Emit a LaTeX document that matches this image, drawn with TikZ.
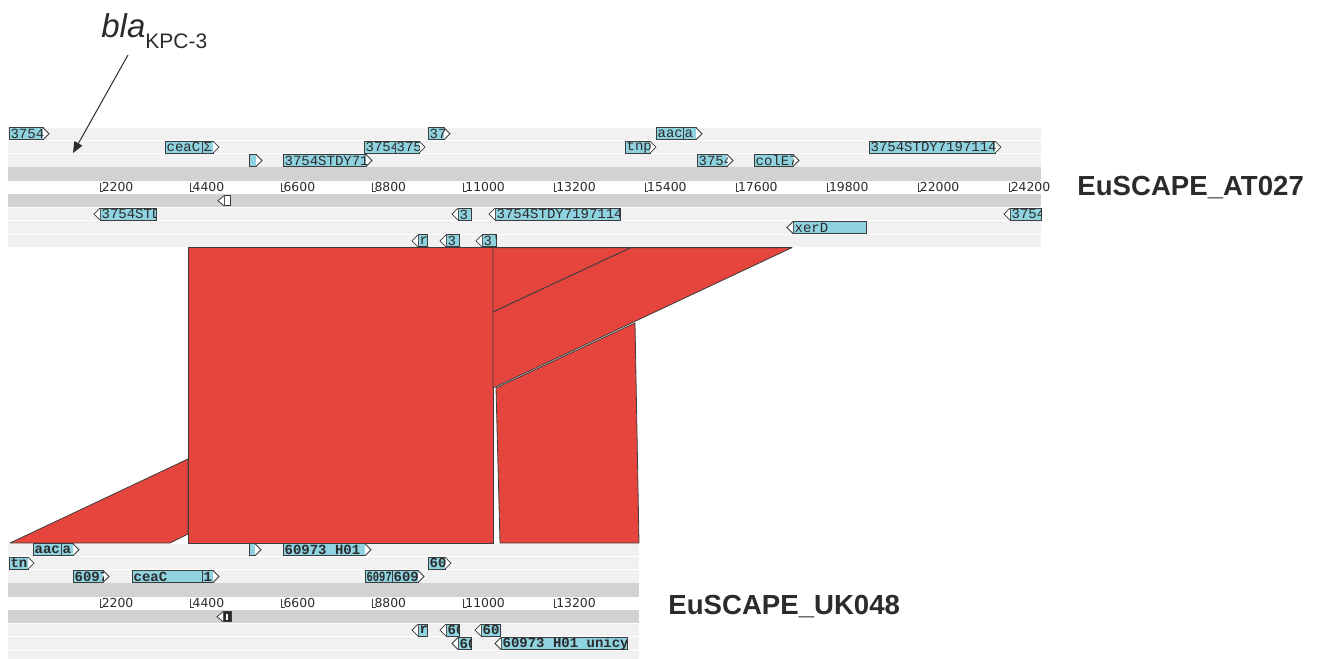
\documentclass[tikz,border=0pt]{standalone}
\usepackage{fontspec}
\usepackage{graphicx}
\setmainfont{Liberation Sans}
\newfontfamily\featfont{Liberation Mono}
\newfontfamily\tickfont{DejaVu Sans}
\usetikzlibrary{arrows.meta}
\definecolor{ink}{HTML}{2B2B2B}
\definecolor{lightrow}{HTML}{F1F1F1}
\definecolor{darkrow}{HTML}{D2D2D2}
\definecolor{featblue}{HTML}{8FD2E0}
\definecolor{featedge}{HTML}{3C3C3C}
\definecolor{hitred}{HTML}{E5453D}

\begin{document}
\begin{tikzpicture}[
  x=0.5pt, y=-0.5pt,
  lrow/.style={fill=lightrow},
  drow/.style={fill=darkrow},
  featbox/.style={fill=featblue, draw=featedge, line width=0.5pt},
  feattip/.style={fill=white, draw=featedge, line width=0.4pt, line join=miter},
  featlbl/.style={anchor=west, inner sep=0.6pt, text=ink, font=\featfont\fontsize{7}{7}\selectfont},
  boldlbl/.style={featlbl, font=\featfont\bfseries\fontsize{7}{7}\selectfont},
  tickline/.style={draw=featedge, line width=0.4pt},
  ticklbl/.style={anchor=west, inner sep=0.5pt, text=ink, font=\tickfont\fontsize{6.2}{7}\selectfont},
  hit/.style={fill=hitred, draw=featedge, line width=0.4pt, line join=round},
  genome/.style={anchor=west, inner sep=0pt, text=ink, font=\bfseries\fontsize{13.8}{16}\selectfont},
  pointer/.style={draw=ink, line width=0.5pt, -{Triangle[length=5.5pt, width=4.5pt]}}
]
\useasboundingbox (0,0) rectangle (1319,659);
\clip (0,0) rectangle (1319,659);

% matching regions
\draw[hit] (188,247.6) -- (493,247.6) -- (493,543) -- (188,543) -- cycle;
\draw[hit] (493,247.6) -- (631,247.6) -- (493,312) -- cycle;
\draw[hit] (493,312) -- (631,247.6) -- (792,247.6) -- (493,388) -- cycle;
\draw[hit] (496,388) -- (635,323) -- (639,543) -- (500,543) -- cycle;
\draw[hit] (10,543) -- (188,459) -- (188,534) -- (170,543) -- cycle;

% EuSCAPE_AT027 track
\begin{scope}[shift={(0,127)}]
\foreach \r in {1,2,3,7,8,9} {\fill[lrow] (8,{(\r-1)*13.4+0.6}) rectangle (1041,{\r*13.4-0.6});}
\foreach \r in {4,6} {\fill[drow] (8,{(\r-1)*13.4}) rectangle (1041,{\r*13.4});}
\foreach \i in {1,...,11} {
  \pgfmathsetmacro\tx{9+90.9*\i}
  \draw[tickline] (\tx,55.6) -- (\tx,64.6) -- (\tx+3,64.6);
  \node[ticklbl] (at-t\i) at (\tx+0.5,60.3) {\the\numexpr2200*\i\relax};
}
% forward genes, tip hidden
\foreach \a/\b/\r/\t in {656/683/1/aac, 165/202/2/ceaC, 364/395/2/3754} {
  \pgfmathsetmacro\yc{(\r-0.5)*13.4}
  \draw[featbox] (\a,\yc-6) rectangle (\b,\yc+6);
  \node[featlbl] (at-\a-\r) at (\a,\yc) {\t};
}
% forward genes
\foreach \a/\b/\r/\t in {9/43/1/3754, 428/444/1/37, 683/696/1/a, 202/213/2/Σ,
  395/419/2/375, 625/650/2/tnp, 869/995/2/3754STDY7197114, 249/256/3/,
  283/366/3/3754STDY71, 697/727/3/3754, 754/793/3/colE7} {
  \pgfmathsetmacro\yc{(\r-0.5)*13.4}
  \draw[featbox] (\a,\yc-6) rectangle (\b,\yc+6);
  \draw[feattip] (\b,\yc-6) -- (\b+6,\yc) -- (\b,\yc+6);
  \begin{scope}
    \clip (\a,\yc-6) rectangle (\b,\yc+6);
    \node[featlbl] (at-\a-\r) at (\a,\yc) {\t};
  \end{scope}
}
% reverse genes
\foreach \a/\b/\r/\t in {100/156/7/3754STD, 458/471/7/3', 495/620/7/3754STDY7197114,
  1010/1041/7/3754, 793/866/8/xerD, 418/427/9/r, 446/459/9/3', 482/496/9/3'} {
  \pgfmathsetmacro\yc{(\r-0.5)*13.4}
  \draw[featbox] (\a,\yc-6) rectangle (\b,\yc+6);
  \draw[feattip] (\a,\yc-6) -- (\a-6,\yc) -- (\a,\yc+6);
  \begin{scope}
    \clip (\a,\yc-6) rectangle (\b,\yc+6);
    \node[featlbl] (at-\a-\r) at (\a,\yc) {\t};
  \end{scope}
}
\draw[featbox, fill=white] (224,{5.5*13.4-5}) rectangle (230,{5.5*13.4+5});
\draw[feattip] (224,{5.5*13.4-5}) -- (218,{5.5*13.4}) -- (224,{5.5*13.4+5});
\node[genome] (at027) at (1077,61) {EuSCAPE\_AT027};
\end{scope}

% EuSCAPE_UK048 track
\begin{scope}[shift={(0,543)}]
\foreach \r in {1,2,3,7,8,9} {\fill[lrow] (8,{(\r-1)*13.4+0.6}) rectangle (639,{\r*13.4-0.6});}
\foreach \r in {4,6} {\fill[drow] (8,{(\r-1)*13.4}) rectangle (639,{\r*13.4});}
\foreach \i in {1,...,6} {
  \pgfmathsetmacro\tx{9+90.9*\i}
  \draw[tickline] (\tx,55.6) -- (\tx,64.6) -- (\tx+3,64.6);
  \node[ticklbl] (uk-t\i) at (\tx+0.5,60.3) {\the\numexpr2200*\i\relax};
}
% forward genes, tip hidden
\foreach \a/\b/\r/\t in {33/61/1/aac, 132/202/3/ceaC, 365/392/3/\scalebox{0.75}[1]{6097}} {
  \pgfmathsetmacro\yc{(\r-0.5)*13.4}
  \draw[featbox] (\a,\yc-6) rectangle (\b,\yc+6);
  \node[boldlbl] (uk-\a-\r) at (\a,\yc) {\t};
}
% forward genes
\foreach \a/\b/\r/\t in {61/73/1/a, 249/255/1/, 283/365/1/60973 H01 1, 9/28/2/tn,
  428/445/2/60, 73/103/3/6097, 202/213/3/1, 392/418/3/609} {
  \pgfmathsetmacro\yc{(\r-0.5)*13.4}
  \draw[featbox] (\a,\yc-6) rectangle (\b,\yc+6);
  \draw[feattip] (\b,\yc-6) -- (\b+6,\yc) -- (\b,\yc+6);
  \begin{scope}
    \clip (\a,\yc-6) rectangle (\b,\yc+6);
    \node[boldlbl] (uk-\a-\r) at (\a,\yc) {\t};
  \end{scope}
}
% reverse genes
\foreach \a/\b/\r/\t in {418/427/7/r, 446/459/7/60, 481/500/7/60, 458/471/8/60,
  501/627/8/60973 H01 unicyc} {
  \pgfmathsetmacro\yc{(\r-0.5)*13.4}
  \draw[featbox] (\a,\yc-6) rectangle (\b,\yc+6);
  \draw[feattip] (\a,\yc-6) -- (\a-6,\yc) -- (\a,\yc+6);
  \begin{scope}
    \clip (\a,\yc-6) rectangle (\b,\yc+6);
    \node[boldlbl] (uk-\a-\r) at (\a,\yc) {\t};
  \end{scope}
}
\draw[featbox, fill=ink] (223,{5.5*13.4-5}) rectangle (231,{5.5*13.4+5});
\draw[draw=white, line width=0.8pt] (227,{5.5*13.4-3}) -- (227,{5.5*13.4+3});
\draw[feattip] (223,{5.5*13.4-5}) -- (217,{5.5*13.4}) -- (223,{5.5*13.4+5});
\node[genome] (uk048) at (668,64) {EuSCAPE\_UK048};
\end{scope}

% KPC-3 callout
\node[anchor=base west, inner sep=0pt, text=ink] (blalbl) at (101,37)
  {{\fontsize{16.5}{18}\selectfont\itshape bla}\raisebox{-5.5pt}{\fontsize{10.5}{12}\selectfont KPC-3}};
\coordinate (blatail) at (128,55);
\coordinate (blahead) at (73,153);
\draw[pointer] (blatail) -- (blahead);
\end{tikzpicture}
\end{document}
